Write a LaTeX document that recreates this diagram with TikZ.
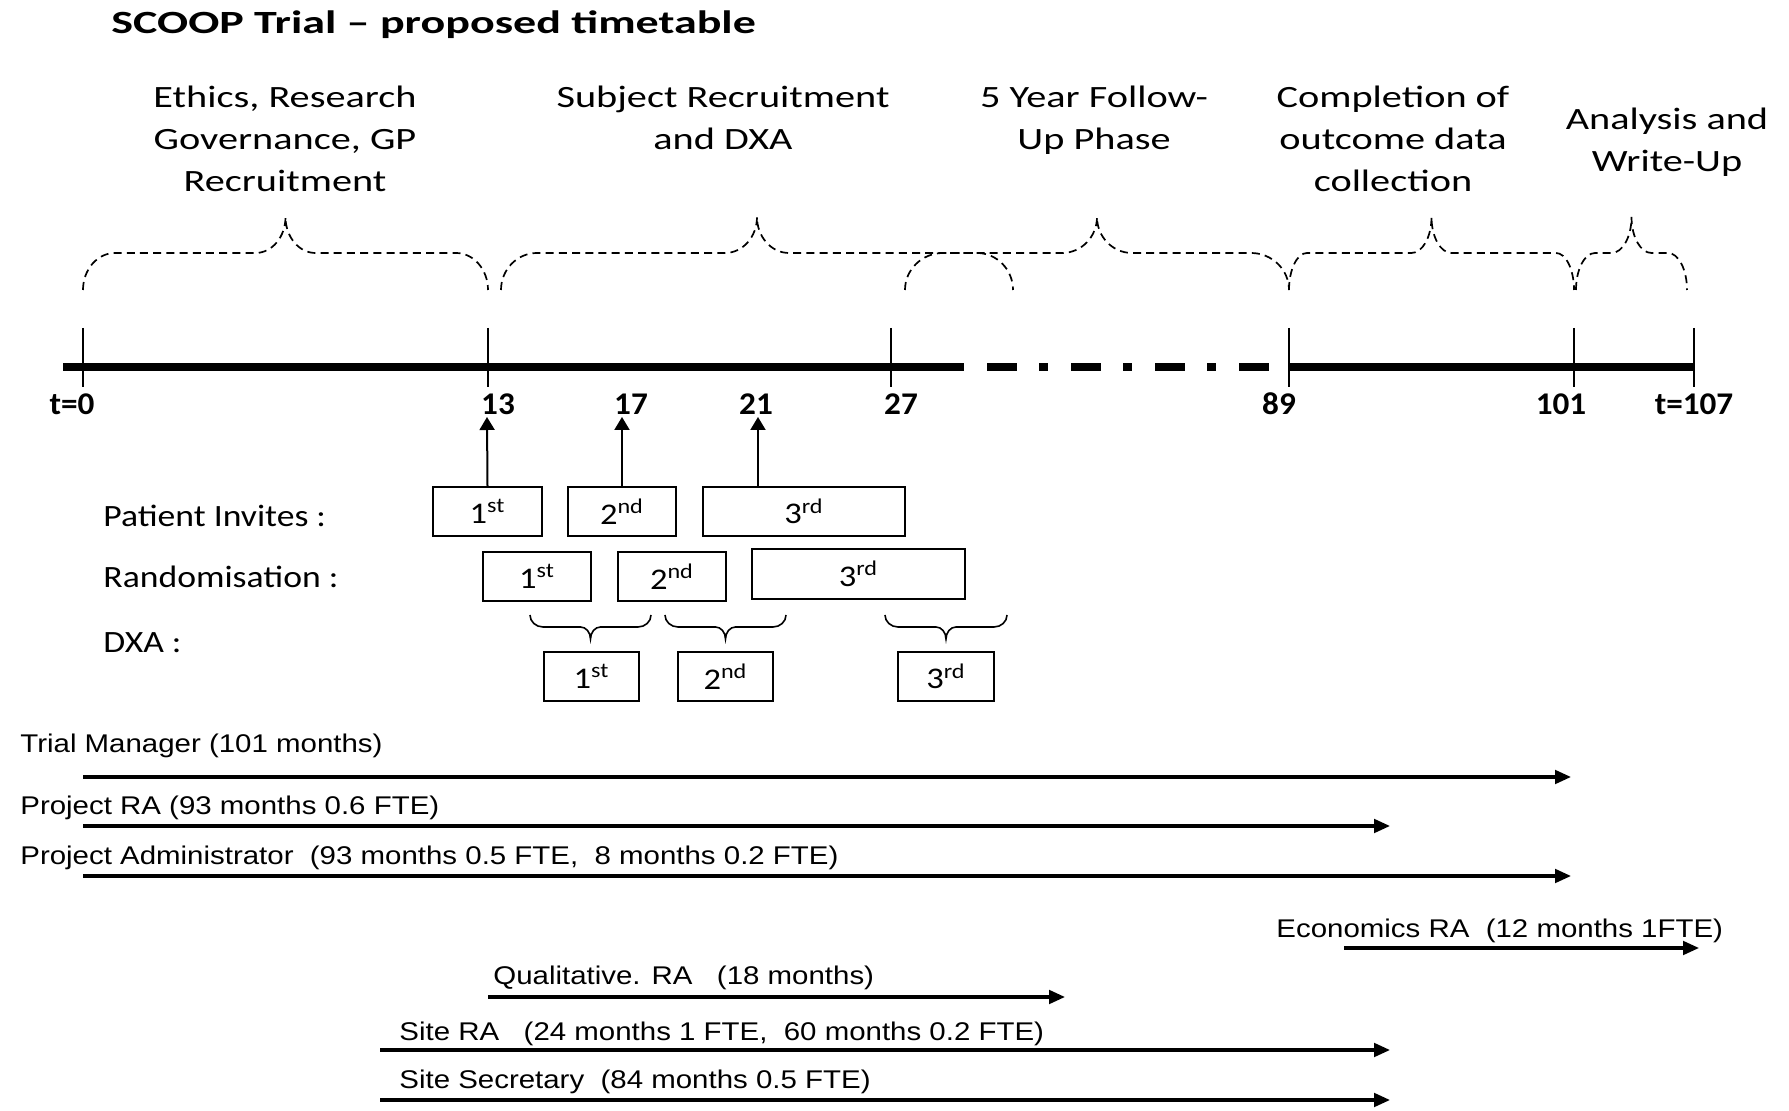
\documentclass[tikz,border=0pt]{standalone}
\usepackage{fontspec}
\newfontfamily\titlefont{Carlito}[FakeStretch=1.42]
\newfontfamily\phasefont{Carlito}[FakeStretch=1.3]
\newfontfamily\rowfont{Carlito}[FakeStretch=1.15]
\newfontfamily\tickfont{Carlito}[FakeStretch=1.05]
\newfontfamily\stafffont{Liberation Sans}[FakeStretch=1.15]
\usetikzlibrary{arrows.meta}
\tikzset{
    phase/.style={align=center,inner sep=0pt,anchor=north,font=\phasefont\fontsize{15.5}{21}\selectfont},
    ticklabel/.style={inner sep=0pt,anchor=base,font=\tickfont\bfseries\fontsize{15.8}{19}\selectfont},
    rowlabel/.style={inner sep=0pt,anchor=base west,font=\rowfont\fontsize{15.5}{19}\selectfont},
    slot/.style={draw,line width=1pt,minimum height=24.5pt,inner sep=0pt,font=\rowfont\fontsize{15}{18}\selectfont},
    stafflabel/.style={inner sep=0pt,anchor=base west,font=\stafffont\fontsize{12.8}{15}\selectfont},
    staffarrow/.style={-{Triangle[length=8pt,width=6.8pt]},line width=1.55pt},
    invitearrow/.style={-{Triangle[length=6.5pt,width=7.5pt]},line width=1pt},
    dashbrace/.style={dash pattern=on 4pt off 2.6pt,line width=0.85pt},
    dxabrace/.style={line width=0.8pt},
    timetick/.style={line width=0.85pt},
    timeline/.style={line width=3.6pt}
}
% curly brace: [style] x1, x2, y at the ends, y of the flat part, y of the tip, end radius, tip radius
\newcommand\curlybrace[8][]{%
    \pgfmathsetmacro\bmid{(#2+#3)/2}%
    \draw[#1] (#2,#4) .. controls (#2,{#4+0.552*(#5-#4)}) and ({#2+0.448*#7},#5) .. ({#2+#7},#5)
        -- ({\bmid-#8},#5) .. controls ({\bmid-0.448*#8},#5) and (\bmid,{#5+0.448*(#6-#5)}) .. (\bmid,#6)
        .. controls (\bmid,{#5+0.448*(#6-#5)}) and ({\bmid+0.448*#8},#5) .. ({\bmid+#8},#5)
        -- ({#3-#7},#5) .. controls ({#3-0.448*#7},#5) and (#3,{#4+0.552*(#5-#4)}) .. (#3,#4);%
}

\begin{document}
\begin{tikzpicture}[x=0.5pt,y=-0.5pt]
    \useasboundingbox (0,0) rectangle (1789,1111);
    \node[anchor=base west,inner sep=0pt,font=\titlefont\bfseries\fontsize{16.2}{19}\selectfont] (title) at (111,34) {SCOOP Trial – proposed timetable};

    % phases
    \node[phase] (ethics) at (285,86) {Ethics, Research\\Governance, GP\\Recruitment};
    \node[phase] (subject) at (723,86) {Subject Recruitment\\and DXA};
    \node[phase] (followup) at (1094,86) {5 Year Follow-\\Up Phase};
    \node[phase] (completion) at (1393,86) {Completion of\\outcome data\\collection};
    \node[phase] (analysis) at (1667,108) {Analysis and\\Write-Up};
    \curlybrace[dashbrace]{83}{488}{290}{253}{217}{32}{30}
    \curlybrace[dashbrace]{501}{1013}{290}{253}{217}{36}{32}
    \curlybrace[dashbrace]{905}{1289}{290}{253}{217}{38}{35}
    \curlybrace[dashbrace]{1289}{1574}{290}{253}{217}{18}{20}
    \curlybrace[dashbrace]{1576}{1687}{290}{253}{217}{19}{20}

    % time line
    \draw[timeline] (63,367) -- (964,367);
    \draw[timeline,dash pattern=on 15pt off 11pt on 4.5pt off 11.5pt] (987,367) -- (1270,367);
    \draw[timeline] (1288,367) -- (1694,367);
    \foreach \x in {83,488,891,1289,1574,1694}
        \draw[timetick] (\x,328) -- (\x,387);
    \node[ticklabel] (l0) at (72,415) {t=0};
    \node[ticklabel] (l13) at (498,415) {13};
    \node[ticklabel] (l17) at (631,415) {17};
    \node[ticklabel] (l21) at (756,415) {21};
    \node[ticklabel] (l27) at (901,415) {27};
    \node[ticklabel] (l89) at (1279,415) {89};
    \node[ticklabel] (l101) at (1561,415) {101};
    \node[ticklabel] (l107) at (1694,415) {t=107};

    % invites, randomisation, DXA
    \node[rowlabel] (invites) at (103,527) {Patient Invites :};
    \node[rowlabel] (random) at (103,588) {Randomisation :};
    \node[rowlabel] (dxa) at (103,653) {DXA :};
    \node[slot,minimum width=54.5pt] (p1) at (487.5,511.5) {1\textsuperscript{st}};
    \node[slot,minimum width=54pt] (p2) at (622,511.5) {2\textsuperscript{nd}};
    \node[slot,minimum width=101pt] (p3) at (804,511.5) {3\textsuperscript{rd}};
    \node[slot,minimum width=54pt] (r1) at (537,576.5) {1\textsuperscript{st}};
    \node[slot,minimum width=54pt] (r2) at (672,576.5) {2\textsuperscript{nd}};
    \node[slot,minimum width=106.5pt,minimum height=25pt] (r3) at (858.5,574) {3\textsuperscript{rd}};
    \node[slot,minimum width=47.5pt] (d1) at (591.5,676.5) {1\textsuperscript{st}};
    \node[slot,minimum width=47.5pt] (d2) at (725.5,676.5) {2\textsuperscript{nd}};
    \node[slot,minimum width=48pt] (d3) at (946,676.5) {3\textsuperscript{rd}};
    \coordinate (a13) at (487,417);
    \coordinate (a17) at (622,417);
    \coordinate (a21) at (758,417);
    \draw[invitearrow] (p1.north) -- (a13);
    \draw[invitearrow] (p2.north) -- (a17);
    \draw[invitearrow] (p3.north -| a21) -- (a21);
    \foreach \xa/\xb in {530/651,665/786,885/1007}
        {\curlybrace[dxabrace]{\xa}{\xb}{615}{627}{639}{13}{10}}

    % staff
    \node[stafflabel] (tm) at (20,753) {Trial Manager (101 months)};
    \node[stafflabel] (pra) at (20,815) {Project RA (93 months 0.6 FTE)};
    \node[stafflabel] (padmin) at (20,865) {Project Administrator\ \ (93 months 0.5 FTE,\ \ 8 months 0.2 FTE)};
    \node[stafflabel] (econ) at (1276,937) {Economics RA\ \ (12 months 1FTE)};
    \node[stafflabel] (qual) at (493,985) {Qualitative. RA\ \ \ (18 months)};
    \node[stafflabel] (sitera) at (399,1040) {Site RA\ \ \ (24 months 1 FTE,\ \ 60 months 0.2 FTE)};
    \node[stafflabel] (sitesec) at (399,1088) {Site Secretary\ \ (84 months 0.5 FTE)};
    \foreach \n/\xa/\xb/\y in {tm/83/1571/777,pra/83/1390/826,padmin/83/1571/876,econ/1344/1699/948,
            qual/488/1065/997,sitera/380/1390/1050,sitesec/380/1390/1100} {
        \coordinate (\n-s) at (\xa,\y);
        \coordinate (\n-e) at (\xb,\y);
        \draw[staffarrow] (\n-s) -- (\n-e);
    }
\end{tikzpicture}
\end{document}
